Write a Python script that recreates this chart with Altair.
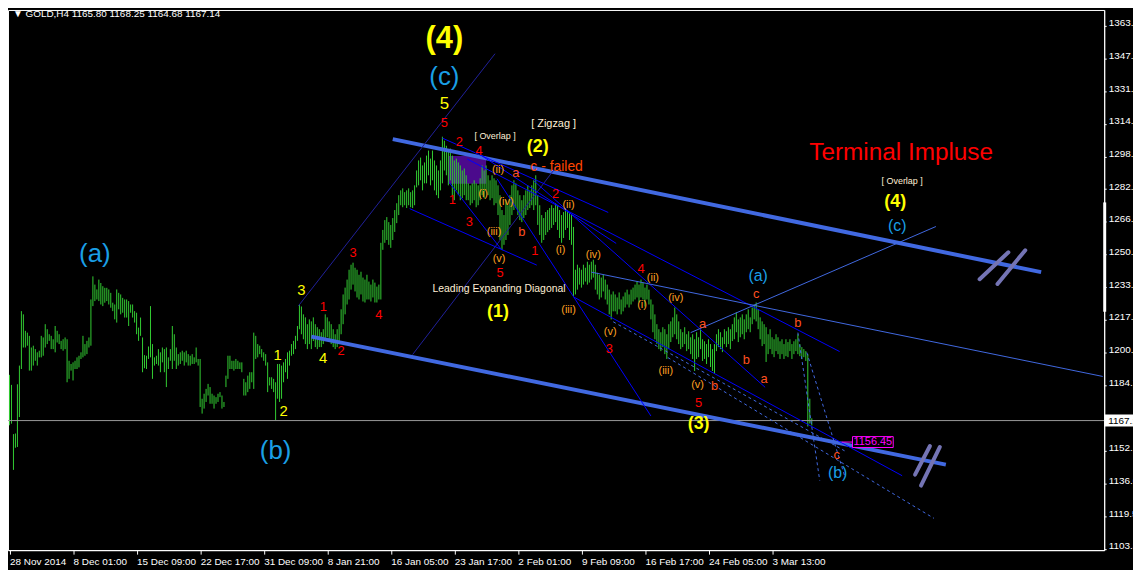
import altair as alt
import pandas as pd

# ---------------- data ----------------
highs = [
 1189.9,1184.9,1160.4,1160.7,1185.2,1194.5,1221.6,1220.0,1211.8,1210.9,
 1209.3,1203.5,1204.4,1202.7,1201.1,1201.9,1209.3,1208.5,1215.1,1212.6,
 1210.1,1209.3,1207.6,1214.2,1211.8,1210.1,1206.8,1207.6,1208.5,1207.6,
 1196.9,1195.3,1196.1,1196.9,1198.6,1199.4,1201.1,1209.3,1205.2,1206.8,
 1208.5,1227.4,1238.9,1234.8,1232.4,1237.3,1235.6,1234.0,1233.2,1233.2,
 1232.4,1230.7,1225.8,1224.9,1232.4,1230.7,1229.9,1228.2,1227.4,1227.4,
 1226.6,1224.9,1224.9,1221.6,1220.8,1213.4,1218.4,1208.5,1199.7,1199.4,
 1204.0,1224.1,1205.2,1198.6,1199.4,1202.7,1201.1,1203.5,1202.7,1203.5,
 1198.6,1202.7,1214.2,1210.1,1203.5,1200.2,1201.1,1201.9,1201.1,1201.9,
 1200.2,1199.4,1200.2,1198.6,1203.5,1197.8,1197.8,1178.0,1180.5,1182.9,
 1185.4,1183.8,1180.5,1179.6,1178.8,1180.5,1181.3,1179.6,1176.4,1189.5,
 1199.4,1199.4,1196.9,1196.9,1197.8,1196.9,1196.1,1196.1,1187.9,1186.2,
 1189.5,1191.2,1191.2,1210.9,1209.3,1205.2,1204.4,1202.7,1201.1,1200.2,
 1196.1,1188.7,1188.7,1187.9,1186.2,1195.3,1195.3,1194.5,1196.1,1197.8,
 1201.1,1201.9,1205.2,1206.8,1209.3,1214.2,1224.9,1223.9,1220.0,1218.5,
 1215.1,1217.5,1216.5,1218.5,1215.1,1213.6,1212.6,1211.1,1212.6,1220.0,
 1218.5,1216.5,1215.1,1212.6,1210.1,1212.6,1215.1,1222.5,1229.9,1233.3,
 1237.3,1242.2,1244.7,1245.7,1243.2,1242.2,1239.7,1241.2,1238.3,1237.3,
 1239.7,1236.3,1234.8,1237.3,1235.8,1233.8,1234.8,1255.6,1262.0,1266.9,
 1268.4,1265.9,1264.5,1267.9,1271.9,1275.3,1279.3,1281.7,1282.7,1280.8,
 1281.7,1282.7,1280.8,1281.7,1284.2,1291.6,1296.6,1298.0,1294.1,1295.6,
 1299.0,1301.5,1297.5,1301.5,1296.6,1294.1,1291.6,1296.6,1308.4,1306.4,
 1303.9,1301.5,1302.5,1299.0,1296.6,1297.5,1295.6,1294.1,1291.6,1292.6,
 1289.2,1285.2,1284.2,1285.2,1286.7,1285.2,1284.2,1287.7,1294.1,1291.6,
 1294.1,1289.2,1286.7,1289.2,1287.7,1286.7,1284.2,1279.3,1271.9,1269.4,
 1276.8,1274.3,1279.3,1284.2,1286.7,1285.2,1281.7,1279.3,1276.8,1279.3,
 1281.7,1284.2,1281.7,1284.2,1286.7,1289.2,1279.3,1274.3,1269.4,1267.9,
 1270.9,1271.9,1272.9,1274.3,1272.9,1275.3,1274.3,1271.9,1269.4,1270.9,
 1272.9,1271.9,1270.4,1269.4,1263.5,1242.2,1244.7,1243.2,1242.2,1244.7,
 1243.2,1246.2,1244.7,1246.2,1247.2,1244.7,1240.7,1239.7,1238.3,1239.7,
 1237.3,1234.8,1232.3,1229.9,1231.4,1229.9,1228.4,1230.9,1227.4,1228.9,
 1230.9,1232.3,1229.9,1232.3,1233.3,1234.8,1236.3,1234.8,1237.3,1235.8,
 1233.3,1234.8,1232.3,1227.4,1224.9,1220.0,1215.1,1212.6,1211.1,1213.6,
 1212.6,1210.1,1215.1,1216.5,1218.5,1223.4,1220.0,1216.5,1212.6,1211.1,
 1213.6,1210.1,1211.6,1208.6,1210.1,1207.6,1211.1,1208.6,1212.6,1207.6,
 1206.6,1205.2,1207.6,1205.2,1202.7,1205.2,1210.1,1212.6,1211.1,1208.6,
 1212.6,1211.6,1213.6,1212.6,1215.1,1218.5,1221.0,1217.5,1218.5,1220.0,
 1217.5,1220.0,1222.5,1218.5,1223.4,1224.9,1225.9,1222.5,1218.5,1216.5,
 1215.1,1213.6,1210.1,1212.6,1208.6,1207.6,1210.1,1208.6,1206.6,1207.6,
 1205.2,1207.6,1206.2,1207.6,1205.2,1206.6,1207.6,1210.1,1205.2,1203.7,
 1202.7,1201.7,1200.2,1178.0,1168.25,
]
lows = [
 1164.8,1165.6,1142.6,1153.6,1154.0,1168.9,1192.8,1203.5,1203.5,1204.4,
 1192.0,1192.0,1194.5,1196.9,1194.5,1198.6,1198.6,1199.4,1203.5,1205.2,
 1206.8,1202.7,1202.7,1201.1,1206.0,1205.2,1202.7,1201.9,1202.7,1186.2,
 1187.9,1192.0,1187.1,1192.8,1192.8,1193.6,1197.8,1198.6,1199.4,1200.2,
 1203.5,1204.4,1224.1,1226.6,1227.4,1226.6,1224.9,1224.1,1225.8,1226.6,
 1224.9,1223.3,1221.6,1217.5,1215.9,1222.5,1220.0,1220.8,1218.4,1218.4,
 1214.2,1220.8,1218.4,1215.9,1210.1,1206.8,1209.3,1191.2,1193.2,1192.8,
 1197.8,1198.6,1187.9,1194.5,1195.3,1194.5,1191.2,1196.1,1191.2,1183.8,
 1192.8,1196.9,1192.8,1196.9,1192.8,1194.5,1195.3,1196.9,1194.5,1196.1,
 1194.5,1194.5,1195.3,1195.3,1196.1,1194.5,1173.9,1170.6,1173.1,1176.4,
 1179.6,1175.5,1175.5,1173.1,1175.5,1176.4,1178.8,1173.1,1173.9,1183.8,
 1187.9,1192.8,1192.8,1192.0,1192.8,1192.8,1192.8,1191.2,1179.6,1179.6,
 1181.3,1182.9,1186.2,1182.9,1197.8,1198.6,1200.2,1198.6,1196.9,1194.5,
 1181.3,1184.6,1182.9,1181.3,1167.3,1178.0,1176.4,1178.0,1186.2,1191.2,
 1187.9,1194.5,1199.4,1200.2,1202.7,1206.8,1212.6,1210.1,1207.6,1205.2,
 1202.7,1205.2,1202.7,1206.7,1203.7,1202.7,1203.7,1203.7,1205.2,1207.6,
 1208.6,1206.7,1205.2,1203.7,1202.7,1203.7,1205.2,1210.1,1215.1,1220.0,
 1224.9,1227.4,1232.3,1234.8,1231.4,1228.4,1227.4,1229.9,1226.4,1225.9,
 1227.4,1227.4,1226.4,1228.4,1225.9,1225.9,1227.4,1227.4,1252.1,1255.6,
 1257.0,1254.6,1253.1,1257.0,1261.0,1265.4,1269.4,1274.3,1273.3,1274.3,
 1272.9,1274.3,1273.3,1272.9,1274.3,1283.2,1284.2,1286.7,1281.7,1285.2,
 1285.2,1289.2,1284.2,1286.7,1281.7,1279.3,1277.8,1281.7,1285.2,1291.6,
 1289.2,1284.2,1286.7,1279.3,1276.8,1281.7,1279.3,1276.8,1277.8,1279.3,
 1276.8,1276.8,1274.3,1275.3,1276.8,1273.3,1274.3,1276.8,1279.3,1277.8,
 1281.7,1279.3,1276.8,1277.8,1274.3,1275.3,1269.4,1257.0,1252.1,1254.6,
 1257.0,1259.5,1264.5,1269.4,1271.9,1272.9,1269.4,1266.9,1265.9,1267.9,
 1269.4,1271.9,1272.9,1274.3,1271.9,1274.3,1264.5,1259.5,1255.6,1257.0,
 1259.5,1260.9,1262.0,1263.0,1264.5,1265.9,1262.0,1258.0,1255.6,1258.0,
 1262.0,1263.0,1257.0,1254.6,1228.9,1229.9,1232.3,1234.8,1233.3,1234.8,
 1236.3,1234.8,1235.8,1237.3,1238.3,1232.3,1229.9,1227.4,1228.4,1231.4,
 1227.4,1224.9,1220.0,1217.5,1221.5,1221.5,1220.0,1222.5,1220.0,1221.5,
 1223.4,1224.9,1223.4,1224.9,1226.4,1227.4,1228.4,1225.9,1228.4,1227.4,
 1223.9,1227.4,1224.9,1217.5,1211.1,1207.6,1205.2,1202.7,1201.7,1203.7,
 1200.2,1197.8,1202.7,1206.2,1208.6,1210.1,1207.6,1205.2,1202.7,1203.7,
 1205.2,1201.7,1202.7,1200.2,1197.8,1191.8,1197.8,1198.7,1202.7,1196.8,
 1197.8,1195.3,1198.7,1193.8,1191.8,1190.4,1201.7,1203.7,1202.7,1201.2,
 1205.2,1203.7,1205.2,1202.7,1206.7,1207.6,1211.1,1206.2,1208.6,1210.1,
 1207.6,1211.1,1212.6,1211.1,1215.1,1217.5,1216.5,1212.6,1207.6,1204.2,
 1205.2,1196.3,1200.2,1202.7,1200.2,1198.7,1201.7,1200.2,1197.8,1200.2,
 1197.8,1199.2,1198.7,1201.7,1197.8,1200.2,1201.7,1200.2,1199.2,1197.8,
 1198.7,1196.8,1164.2,1165.7,1164.68,
]
date_labels = ["28 Nov 2014", "8 Dec 01:00", "15 Dec 09:00", "22 Dec 17:00",
               "31 Dec 09:00", "8 Jan 21:00", "16 Jan 05:00", "23 Jan 17:00",
               "2 Feb 01:00", "9 Feb 09:00", "16 Feb 17:00", "24 Feb 05:00",
               "3 Mar 13:00"]
date_bars = [0, 32, 64, 96, 128, 160, 192, 224, 256, 288, 320, 352, 384]
price_labels = ["1363.6", "1347.3", "1331.0", "1314.8", "1298.5", "1282.3",
                "1266.0", "1250.0", "1233.5", "1217.2", "1200.9", "1184.7",
                "1152.1", "1136.0", "1119.5", "1103.3"]
header = "\u25bc GOLD,H4  1165.80 1168.25 1164.68 1167.14"
last_close = 1167.14
marked_price = 1156.45

# annotations: text, bar index, price, kind
ann_text = ["(4)", "(c)", "(a)", "(b)", "5",
            "1", "2", "3", "4",
            "5", "2", "4", "1", "2", "3", "4", "1", "3", "5", "1", "2", "3", "4", "5",
            "(i)", "(ii)", "(iii)", "(iv)", "(v)", "(i)", "(ii)", "(iii)", "(iv)", "(v)",
            "(ii)", "(i)", "(iv)", "(iii)", "(v)",
            "a", "b", "a", "b", "b", "a", "c", "b", "c",
            "(2)", "(1)", "(3)", "(4)",
            "(a)", "(c)", "(b)",
            "[ Overlap ]", "[ Overlap ]", "[ Zigzag ]", "Leading Expanding Diagonal",
            "c - failed", "Terminal Impluse"]
ann_i = [219, 219, 43, 134, 219,
         135, 138, 147, 158,
         219, 226.5, 236.5, 158, 167, 173, 186, 223, 231.5, 247, 264.5, 275, 302, 318, 347,
         238.5, 246, 244, 250, 246.5, 277.5, 281.5, 281.5, 294, 302.5,
         324, 318.5, 335.5, 330.5, 346.5,
         255, 258, 349, 355, 371, 380, 376, 397, 416.5,
         266, 246, 347, 446,
         377, 447, 417,
         244.5, 449.5, 274, 246.5,
         275.5, 449]
ann_p = [1357.1, 1338.3, 1249.9, 1152.1, 1324.5,
         1200.0, 1171.8, 1232.1, 1198.5,
         1315.1, 1305.7, 1301.3, 1223.7, 1201.5, 1250.4, 1219.8, 1277.1, 1265.7, 1240.5,
         1251.4, 1280.0, 1202.9, 1242.5, 1175.8,
         1280.0, 1291.9, 1260.8, 1276.1, 1247.4, 1251.9, 1274.6, 1222.2, 1249.4, 1211.4,
         1238.0, 1224.7, 1228.2, 1191.6, 1184.7,
         1290.4, 1260.8, 1215.3, 1184.2, 1197.5, 1187.6, 1230.1, 1215.8, 1150.1,
         1303.3, 1221.3, 1165.4, 1276.1,
         1239.0, 1263.7, 1141.2,
         1308.7, 1286.5, 1314.6, 1232.6,
         1293.4, 1300.3]
ann_kind = ["big_yellow", "big_blue", "big_blue", "big_blue", "yellow_big_num",
            "yellow_num", "yellow_num", "yellow_num", "yellow_num"] + \
           ["red_num"] * 15 + ["roman"] * 15 + ["letter"] * 9 + \
           ["yellow_bold"] * 4 + ["blue_med"] * 3 + \
           ["note_s", "note_s", "note_m", "diag", "failed", "title"]

# trend lines: start (bar, price) -> end (bar, price)
seg_i1 = [193, 152, 488.5, 497.5, 456, 459, 145.5, 203, 201.5, 218, 238, 230.5, 264, 245.5,
          221.5, 343, 293, 284, 304, 331.5, 397, 401.5]
seg_p1 = [1307.2, 1208.9, 1237.5, 1235.1, 1140.2, 1134.8, 1224.2, 1200.0, 1272.6, 1307.7,
          1298.8, 1297.3, 1286.5, 1287.5, 1285.5, 1210.9, 1241.0, 1228.7, 1216.3, 1198.5,
          1210.9, 1201.0]
seg_i2 = [519.5, 471.5, 503, 511.5, 463.5, 468.5, 244.5, 276.5, 265.5, 301.5, 305.5, 418,
          380.5, 323, 248, 466.5, 550.5, 449.5, 420.5, 465.5, 408, 420.5]
seg_p2 = [1241.0, 1145.2, 1250.9, 1251.9, 1154.5, 1154.0, 1349.7, 1294.9, 1244.5, 1270.7,
          1255.3, 1201.5, 1183.7, 1169.4, 1251.9, 1263.7, 1189.1, 1139.7, 1152.1, 1118.5,
          1137.3, 1139.7]
seg_kind = ["thick", "thick", "slash", "slash", "slash", "slash", "navy", "navy",
            "blue", "blue", "blue", "blue", "blue", "blue", "blue",
            "royal", "royal", "blue", "dash", "dash", "dash", "dash"]

# overlap zone
zone_i = [221, 240]
zone_p = [1298.8, 1285.0]
# right-axis range marker
range_p = [1275.7, 1221.3]

# ---------------- styles ----------------
FONT = "Liberation Sans"
W, H = 1104, 544
xs = alt.Scale(domain=[-0.75, 551.25], nice=False, zero=False)
ys = alt.Scale(domain=[1102.66, 1371.46], nice=False, zero=False)

x_label_expr = " : ".join(f"datum.value == {v} ? '{t}'" for v, t in zip(date_bars, date_labels)) + " : ''"
x_axis = alt.Axis(values=date_bars, labelExpr=x_label_expr, title=None, labelAlign="left",
                  labelBaseline="top", labelPadding=2, tickSize=4, labelFlush=False,
                  labelOverlap=False, labelBound=False)
y_axis = alt.Axis(orient="right", values=[float(s) for s in price_labels],
                  labelExpr="format(datum.value, '.1f')", title=None, tickSize=2,
                  labelPadding=2, labelOffset=-3, labelAlign="left", labelBaseline="middle",
                  labelOverlap=False, labelBound=False, labelFlush=False)

TEXT_STYLES = {
    "big_yellow": dict(color="#ffff00", fontSize=31, fontWeight="bold"),
    "big_blue": dict(color="#1a9fe6", fontSize=26),
    "yellow_big_num": dict(color="#ffff00", fontSize=17),
    "yellow_num": dict(color="#ffff00", fontSize=15),
    "red_num": dict(color="#ff0000", fontSize=13),
    "roman": dict(color="#ffa020", fontSize=11),
    "letter": dict(color="#ff5020", fontSize=13),
    "yellow_bold": dict(color="#ffff00", fontSize=18, fontWeight="bold"),
    "blue_med": dict(color="#1a9fe6", fontSize=16),
    "note_s": dict(color="#ffefd5", fontSize=9),
    "note_m": dict(color="#ffefd5", fontSize=11),
    "diag": dict(color="#ffefd5", fontSize=10.5),
    "failed": dict(color="#ff4500", fontSize=14),
    "title": dict(color="#ff0000", fontSize=24.5),
}
LINE_STYLES = {
    "thick": dict(color="#4169e1", strokeWidth=4),
    "slash": dict(color="#7474b4", strokeWidth=4, strokeCap="round"),
    "navy": dict(color="#20209a", strokeWidth=1),
    "blue": dict(color="#0000ff", strokeWidth=1),
    "royal": dict(color="#4169e1", strokeWidth=1),
    "dash": dict(color="#4169e1", strokeWidth=1, strokeDash=[3, 3]),
}

def X(f):
    return alt.X(f, type="quantitative", scale=xs, axis=x_axis)

def Y(f):
    return alt.Y(f, type="quantitative", scale=ys, axis=y_axis)

layers = []

zone_df = pd.DataFrame({"i1": [zone_i[0]], "i2": [zone_i[1]], "p1": [zone_p[0]], "p2": [zone_p[1]]})
layers.append(alt.Chart(zone_df).mark_rect(color="#4b0a8c").encode(
    x=X("i1"), x2="i2", y=Y("p1"), y2="p2"))

bars_df = pd.DataFrame({"i": list(range(len(highs))), "high": highs, "low": lows})
layers.append(alt.Chart(bars_df).mark_rule(color="#32cd32", strokeWidth=1).encode(
    x=X("i"), y=Y("low"), y2="high"))

bid_df = pd.DataFrame({"p": [last_close]})
layers.append(alt.Chart(bid_df).mark_rule(color="#999999", strokeWidth=1).encode(
    y=Y("p"), x=alt.value(0), x2=alt.value(W)))

seg_df = pd.DataFrame({"i1": seg_i1, "p1": seg_p1, "i2": seg_i2, "p2": seg_p2, "kind": seg_kind})
for kind, st in LINE_STYLES.items():
    sub = seg_df[seg_df.kind == kind]
    if len(sub):
        layers.append(alt.Chart(sub).mark_rule(**st).encode(
            x=X("i1"), y=Y("p1"), x2="i2", y2="p2"))

ann_df = pd.DataFrame({"i": ann_i, "p": ann_p, "text": ann_text, "kind": ann_kind})
for kind, st in TEXT_STYLES.items():
    sub = ann_df[ann_df.kind == kind]
    if len(sub):
        layers.append(alt.Chart(sub).mark_text(font=FONT, align="center", baseline="middle", **st).encode(
            x=X("i"), y=Y("p"), text="text:N"))

# marked price label (magenta box)
mp_df = pd.DataFrame({"i1": [424.5], "i2": [445], "i0": [419], "ic": [434.75], "p": [marked_price],
                      "t": [f"{marked_price:.2f}"]})
layers.append(alt.Chart(mp_df).mark_rule(color="#ff00ff").encode(x=X("i0"), x2="i1", y=Y("p")))
layers.append(alt.Chart(mp_df).mark_rect(fill="black", stroke="#ff00ff", strokeWidth=1,
                                         yOffset=-5.5, y2Offset=5.5).encode(
    x=X("i1"), x2="i2", y=Y("p"), y2="p"))
layers.append(alt.Chart(mp_df).mark_text(font=FONT, fontSize=11, color="#ff00ff", align="center",
                                         baseline="middle").encode(x=X("ic"), y=Y("p"), text="t:N"))

# right axis range marker and current price box
rng_df = pd.DataFrame({"p1": [range_p[0]], "p2": [range_p[1]]})
layers.append(alt.Chart(rng_df).mark_rule(color="white", strokeWidth=3).encode(
    x=alt.value(W + 0.5), y=Y("p1"), y2="p2"))
cp_df = pd.DataFrame({"p": [last_close], "t": [f"{last_close:.2f}"]})
layers.append(alt.Chart(cp_df).mark_rect(color="white", yOffset=-6, y2Offset=6).encode(
    x=alt.value(W), x2=alt.value(W + 40), y=Y("p"), y2="p"))
layers.append(alt.Chart(cp_df).mark_text(font=FONT, fontSize=10, color="black", align="left",
                                         baseline="middle").encode(
    x=alt.value(W + 4), y=Y("p"), text="t:N"))

hd_df = pd.DataFrame({"t": [header]})
layers.append(alt.Chart(hd_df).mark_text(font=FONT, fontSize=10, color="white", align="left",
                                         baseline="middle").encode(
    x=alt.value(5), y=alt.value(4.5), text="t:N"))

chart = alt.layer(*layers).properties(
    width=W, height=H,
    autosize=alt.AutoSizeParams(type="none"),
    padding={"left": 0, "top": 0, "right": 29, "bottom": 18},
    background="black",
).configure_view(stroke="white", strokeWidth=1).configure_axis(
    grid=False, domainColor="white", tickColor="white", labelColor="white",
    labelFont=FONT, labelFontSize=10,
)

chart.save("out.html", embed_options={"renderer": "svg", "actions": False})
